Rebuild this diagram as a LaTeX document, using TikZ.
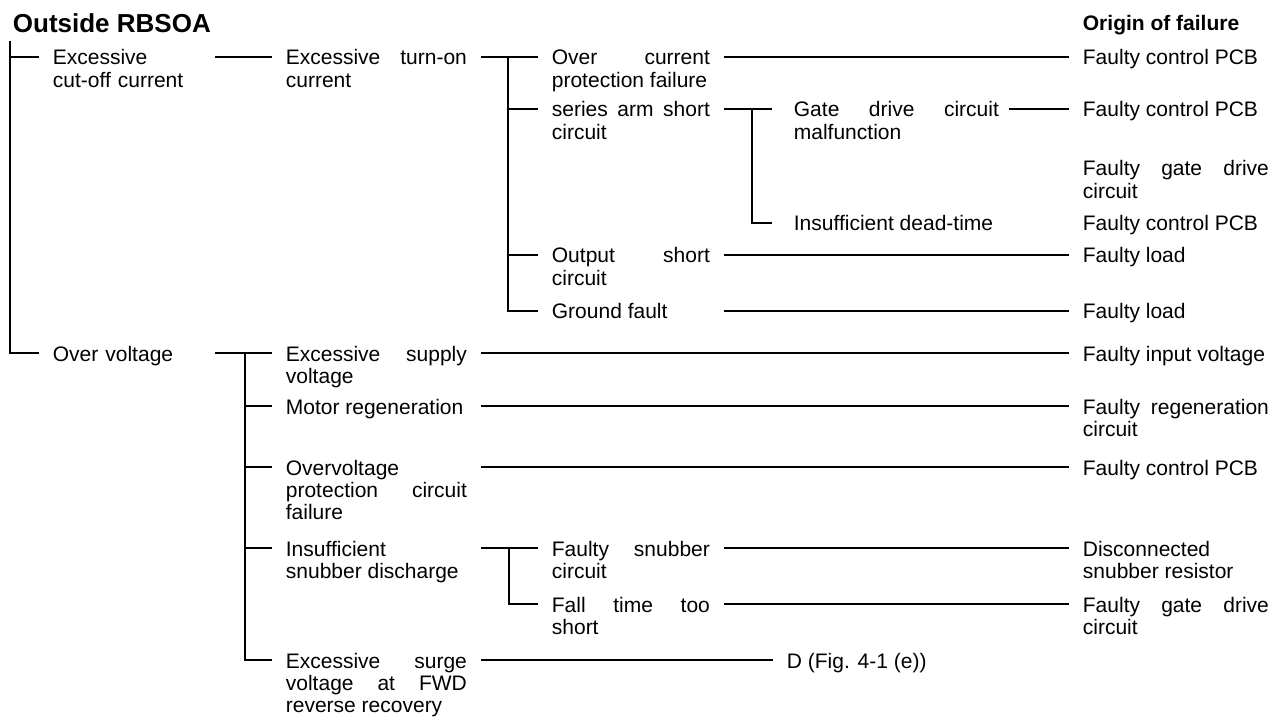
\documentclass[tikz,border=0pt]{standalone}
\usepackage{fontspec}
\setmainfont{Liberation Sans}

\newcommand{\treefont}{\fontsize{10.5}{11.1}\selectfont\tolerance=10000 \hbadness=10000 \hyphenpenalty=10000 \exhyphenpenalty=10000 }

\tikzset{
	txt/.style={anchor=base west, inner sep=0pt, text width={#1*0.5pt}, align=justify, font=\treefont},
	lvl/.style={txt=#1, align=left},
	every path/.style={line width=0.9pt}
}

\begin{document}
\begin{tikzpicture}[x=0.5pt,y=-0.5pt]
	\useasboundingbox (0,0) rectangle (1287,717);
	\node[anchor=base west, inner sep=0pt, font=\fontsize{13}{15}\selectfont\bfseries] (title) at (12,33) {Outside RBSOA};
	\node[anchor=base west, inner sep=0pt, font=\fontsize{10.5}{12}\selectfont\bfseries] (orighd) at (1082,31) {Origin of failure};
	% causes
	\node[lvl=148] (cutoff) at (52,65) {Excessive\\cut-off current};
	\node[lvl=148] (overv) at (52,361) {Over voltage};
	\node[txt=181] (turnon) at (285,65) {Excessive turn-on\linebreak current};
	\node[txt=181] (supply) at (285,361) {Excessive supply\linebreak voltage};
	\node[txt=181] (motor) at (285,414) {Motor regeneration};
	\node[txt=181] (ovprot) at (285,475) {Overvoltage\linebreak protection circuit\linebreak failure};
	\node[txt=181] (snubdis) at (285,556) {Insufficient\linebreak snubber discharge};
	\node[txt=181] (surge) at (285,668) {Excessive surge\linebreak voltage at FWD\linebreak reverse recovery};
	\node[txt=158] (ovcur) at (551,65) {Over current\linebreak protection failure};
	\node[txt=158] (series) at (551,117) {series arm short\linebreak circuit};
	\node[txt=158] (outsh) at (551,263) {Output short\linebreak circuit};
	\node[txt=158] (gnd) at (551,319) {Ground fault};
	\node[txt=158] (fsnub) at (551,556) {Faulty snubber\linebreak circuit};
	\node[txt=158] (falltime) at (551,612) {Fall time too\linebreak short};
	\node[txt=205] (gatemal) at (793,117) {Gate drive circuit\linebreak malfunction};
	\node[txt=205] (deadt) at (793,231) {Insufficient dead-time};
	\node[txt=160] (dfig) at (786,668) {D (Fig. 4-1 (e))};
	% origin of failure
	\node[txt=186] (o1) at (1082,65) {Faulty control PCB};
	\node[txt=186] (o2) at (1082,117) {Faulty control PCB};
	\node[txt=186] (o3) at (1082,176) {Faulty gate drive\linebreak circuit};
	\node[txt=186] (o4) at (1082,231) {Faulty control PCB};
	\node[txt=186] (o5) at (1082,263) {Faulty load};
	\node[txt=186] (o6) at (1082,319) {Faulty load};
	\node[txt=186] (o7) at (1082,361) {Faulty input voltage};
	\node[txt=186] (o8) at (1082,414) {Faulty regeneration\linebreak circuit};
	\node[txt=186] (o9) at (1082,475) {Faulty control PCB};
	\node[txt=186] (o10) at (1082,556) {Disconnected\linebreak snubber resistor};
	\node[txt=186] (o11) at (1082,612) {Faulty gate drive\linebreak circuit};

	\draw ([shift={(-42,-24)}]cutoff.base west) |- ([shift={(-13,-8)}]overv.base west);
	\draw ([shift={(-42,-8)}]cutoff.base west) -- ([shift={(-13,-8)}]cutoff.base west);
	\draw ([shift={(13,-8)}]cutoff.base east) -- ([shift={(-13,-8)}]turnon.base west);
	\draw ([shift={(13,-8)}]turnon.base east) -- ([shift={(-13,-8)}]ovcur.base west);
	\draw ([shift={(-43,-8)}]ovcur.base west) |- ([shift={(-13,-8)}]gnd.base west);
	\draw ([shift={(-43,-8)}]series.base west) -- ([shift={(-13,-8)}]series.base west);
	\draw ([shift={(-43,-8)}]outsh.base west) -- ([shift={(-13,-8)}]outsh.base west);
	\draw ([shift={(13,-8)}]ovcur.base east) -- ([shift={(-13,-8)}]o1.base west);
	\draw ([shift={(13,-8)}]series.base east) -- ([shift={(-21,-8)}]gatemal.base west);
	\draw ([shift={(-41,-8)}]gatemal.base west) |- ([shift={(-21,-8)}]deadt.base west);
	\draw ([shift={(9,-8)}]gatemal.base east) -- ([shift={(-13,-8)}]o2.base west);
	\draw ([shift={(13,-8)}]outsh.base east) -- ([shift={(-13,-8)}]o5.base west);
	\draw ([shift={(13,-8)}]gnd.base east) -- ([shift={(-13,-8)}]o6.base west);
	% over voltage
	\draw ([shift={(13,-8)}]overv.base east) -- ([shift={(-13,-8)}]supply.base west);
	\draw ([shift={(-40,-8)}]supply.base west) |- ([shift={(-13,-8)}]surge.base west);
	\draw ([shift={(-40,-8)}]motor.base west) -- ([shift={(-13,-8)}]motor.base west);
	\draw ([shift={(-40,-8)}]ovprot.base west) -- ([shift={(-13,-8)}]ovprot.base west);
	\draw ([shift={(-40,-8)}]snubdis.base west) -- ([shift={(-13,-8)}]snubdis.base west);
	\draw ([shift={(13,-8)}]supply.base east) -- ([shift={(-13,-8)}]o7.base west);
	\draw ([shift={(13,-8)}]motor.base east) -- ([shift={(-13,-8)}]o8.base west);
	\draw ([shift={(13,-8)}]ovprot.base east) -- ([shift={(-13,-8)}]o9.base west);
	\draw ([shift={(13,-8)}]snubdis.base east) -- ([shift={(-13,-8)}]fsnub.base west);
	\draw ([shift={(-42,-8)}]fsnub.base west) |- ([shift={(-13,-8)}]falltime.base west);
	\draw ([shift={(13,-8)}]fsnub.base east) -- ([shift={(-13,-8)}]o10.base west);
	\draw ([shift={(13,-8)}]falltime.base east) -- ([shift={(-13,-8)}]o11.base west);
	\draw ([shift={(13,-8)}]surge.base east) -- ([shift={(-13,-8)}]dfig.base west);
\end{tikzpicture}
\end{document}
